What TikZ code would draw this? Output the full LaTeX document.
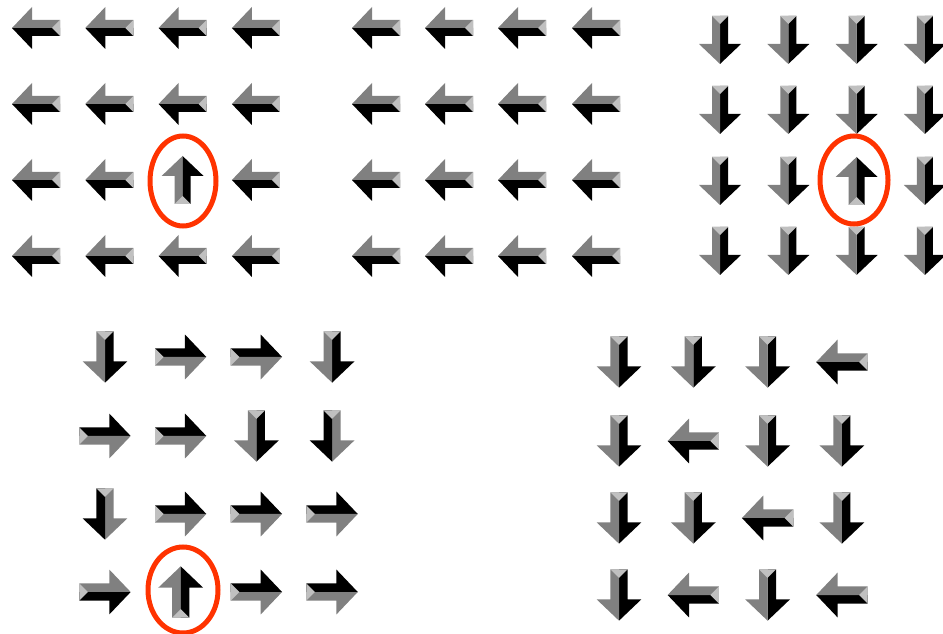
\documentclass[tikz,border=0pt]{standalone}
\definecolor{spingrey}{RGB}{128,128,128}
\definecolor{spincap}{RGB}{192,192,192}
\definecolor{flipmark}{RGB}{255,51,0}
\newcommand{\spinscale}{1}
% one shaded spin arrow: x, y (image pixels), angle, shading variant
\newcommand{\spinarrow}[4]{%
  \begin{scope}[shift={(#1,-#2)}, rotate=#3, scale=\spinscale]
    \ifnum#4=0 \def\lcol{black}\def\rcol{spingrey}%
    \else \def\lcol{spingrey}\def\rcol{black}\fi
    \fill[\lcol] (24,0) -- (4,21) -- (4,8) -- (-24,8) -- (-24,0) -- cycle;
    \fill[\rcol] (24,0) -- (4,-21) -- (4,-8) -- (-24,-8) -- (-24,0) -- cycle;
    \fill[spincap] (-24,8) -- (-16,0) -- (-24,-8) -- cycle;
  \end{scope}}

\begin{document}
\begin{tikzpicture}[x=0.02cm, y=0.02cm,
  flipring/.style={draw=flipmark, line width=0.1cm}]
\useasboundingbox (0,0) rectangle (943,-634);
% top left: one flipped spin
\foreach \y/\row in {28/{180/0,180/0,180/0,180/0},
                     104/{180/0,180/0,180/0,180/0},
                     180/{180/0,180/0,90/1,180/0},
                     256/{180/0,180/0,180/0,180/0}}
  \foreach \a/\v [count=\k from 0] in \row
    \spinarrow{36+73.3*\k}{\y}{\a}{\v};
\draw[flipring] (183,-181) ellipse [x radius=33, y radius=45];
% top middle: ground state
\foreach \x in {376,449,522,596}
  \foreach \y in {28,104,180,256}
    \spinarrow{\x}{\y}{180}{0};
% top right: all down, one flipped
\foreach \y/\row in {40/{-90/0,-90/0,-90/0,-90/0},
                     110/{-90/0,-90/0,-90/0,-90/0},
                     181/{-90/0,-90/0,90/1,-90/0},
                     251/{-90/0,-90/0,-90/0,-90/0}}
  \foreach \a/\v [count=\k from 0] in \row
    \spinarrow{720+68.3*\k}{\y}{\a}{\v};
\draw[flipring] (854,-180) ellipse [x radius=34, y radius=44];
% bottom: disordered states
\renewcommand{\spinscale}{1.07}
\foreach \y/\row in {357/{-90/0,0/0,0/0,-90/0},
                     436/{0/0,0/0,-90/0,-90/1},
                     514/{-90/1,0/0,0/0,0/0},
                     592/{0/1,90/1,0/0,0/0}}
  \foreach \a/\v [count=\k from 0] in \row
    \spinarrow{105+75.7*\k}{\y}{\a}{\v};
\draw[flipring] (183,-590) ellipse [x radius=35, y radius=43];
\foreach \y/\row in {362/{-90/0,-90/0,-90/0,180/0},
                     441/{-90/0,180/0,-90/0,-90/0},
                     518/{-90/0,-90/0,180/0,-90/0},
                     595/{-90/0,180/0,-90/0,180/0}}
  \foreach \a/\v [count=\k from 0] in \row
    \spinarrow{619+74.3*\k}{\y}{\a}{\v};
\end{tikzpicture}
\end{document}
